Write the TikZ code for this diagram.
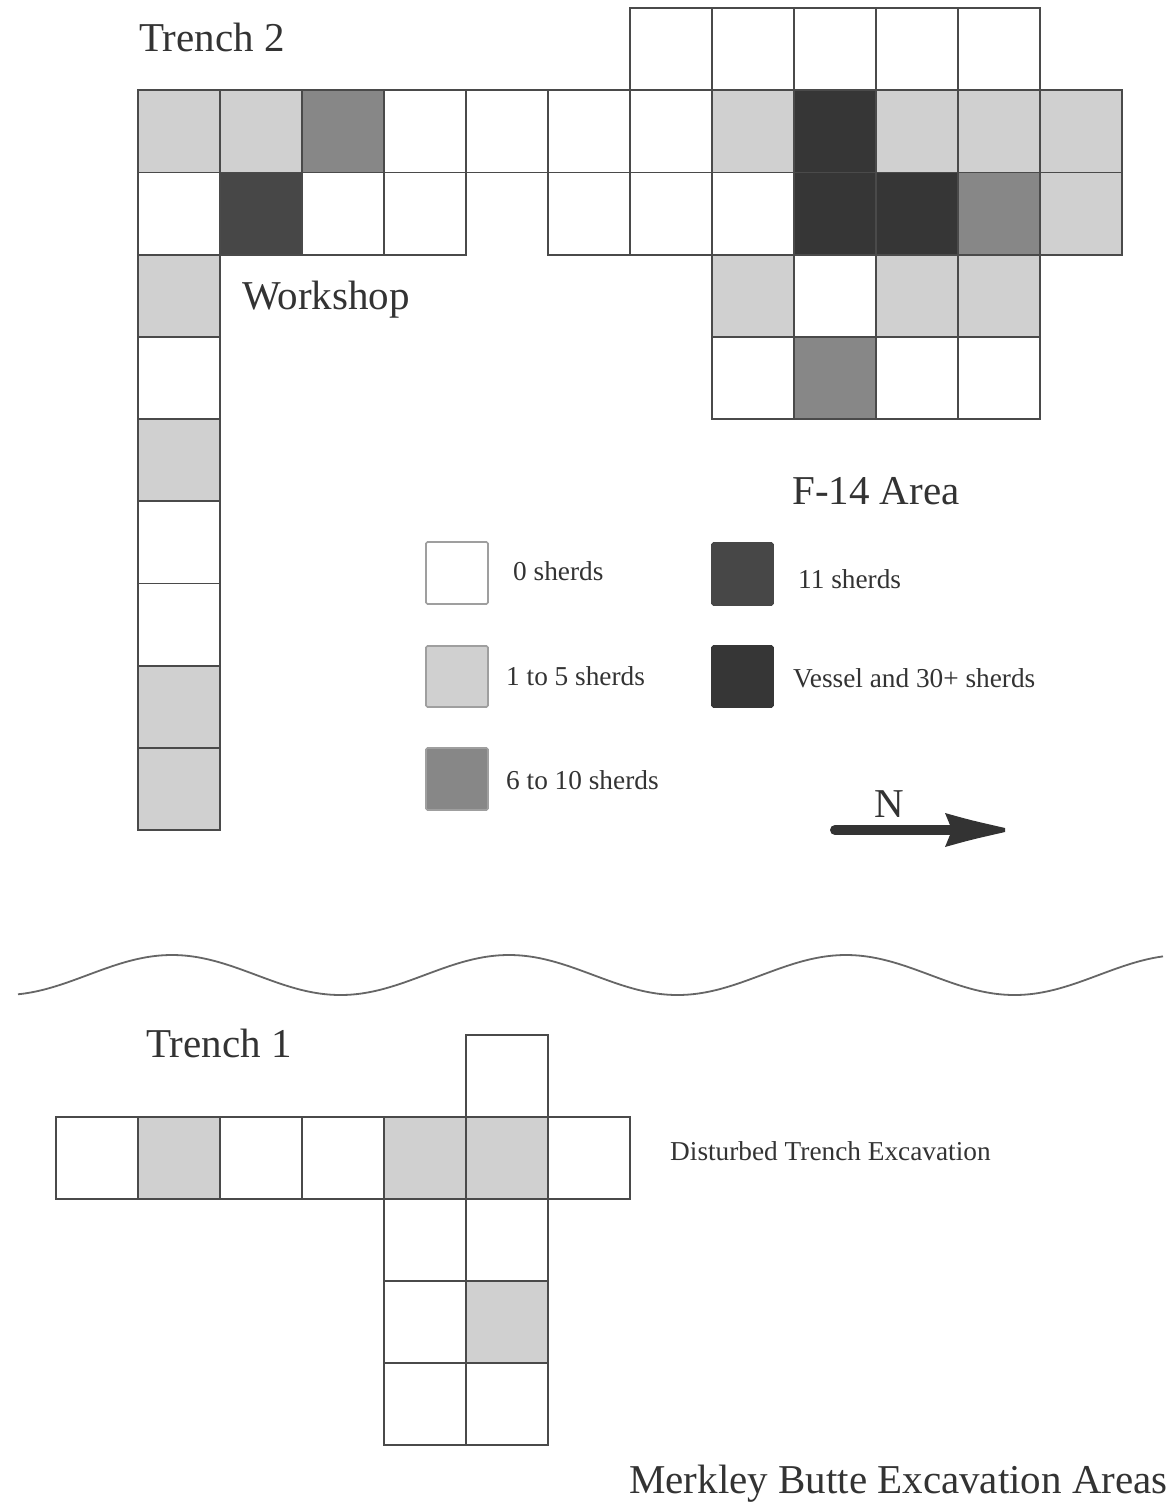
\documentclass[tikz,border=0pt]{standalone}
\usepackage{fontspec}
\setmainfont{Liberation Serif}
\definecolor{lightc}{HTML}{D0D0D0}
\definecolor{medc}{HTML}{878787}
\definecolor{darkc}{HTML}{474747}
\definecolor{vesc}{HTML}{363636}
\definecolor{linec}{HTML}{4A4A4A}
\definecolor{txtc}{HTML}{333333}
\newcommand{\gridrow}[3]{%
  \foreach \c/\f in {#3} {\path[cell,fill=\f] ({#2+82*\c},#1) rectangle ++(82,82.2);}}
\begin{document}
\begin{tikzpicture}[x=1pt,y=-1pt,
  cell/.style={draw=linec,line width=1.8pt},
  legbox/.style={draw=gray!75,line width=1.6pt,rounded corners=1.5pt},
  bigtxt/.style={text=txtc,inner sep=0pt,font=\fontsize{41}{46}\selectfont},
  smalltxt/.style={text=txtc,inner sep=0pt,font=\fontsize{27.3}{31}\selectfont},
  wave/.style={draw=gray!80!black,line width=1.8pt}]
\useasboundingbox (0,0) rectangle (1167,1505);
\fill[white] (0,0) rectangle (1167,1505);

% Trench 2 / F-14 grid
\gridrow{8}{138}{6/white,7/white,8/white,9/white,10/white}
\gridrow{90.2}{138}{0/lightc,1/lightc,2/medc,3/white,4/white,5/white,6/white,7/lightc,8/vesc,9/lightc,10/lightc,11/lightc}
\gridrow{172.4}{138}{0/white,1/darkc,2/white,3/white,5/white,6/white,7/white,8/vesc,9/vesc,10/medc,11/lightc}
\gridrow{254.6}{138}{0/lightc,7/lightc,8/white,9/lightc,10/lightc}
\gridrow{336.8}{138}{0/white,7/white,8/medc,9/white,10/white}
\gridrow{419}{138}{0/lightc}
\gridrow{501.2}{138}{0/white}
\gridrow{583.4}{138}{0/white}
\gridrow{665.6}{138}{0/lightc}
\gridrow{747.8}{138}{0/lightc}

% labels
\node[bigtxt,anchor=base west] (t2) at (139,51) {Trench 2};
\node[bigtxt,anchor=base west] (ws) at (242,309) {Workshop};
\node[bigtxt,anchor=base west] (f14) at (792,504) {F-14 Area};

% legend
\path[legbox,fill=white]  (426,542) rectangle (488,604);
\path[legbox,fill=lightc] (426,646) rectangle (488,707);
\path[legbox,fill=medc]   (426,748) rectangle (488,810);
\path[legbox,fill=darkc,draw=darkc]  (712,543) rectangle (773,605);
\path[legbox,fill=vesc,draw=vesc]   (712,646) rectangle (773,707);
\node[smalltxt,anchor=base west] (l0) at (513,580) {0 sherds};
\node[smalltxt,anchor=base west] (l1) at (506,685) {1 to 5 sherds};
\node[smalltxt,anchor=base west] (l6) at (506,789) {6 to 10 sherds};
\node[smalltxt,anchor=base west] (l11) at (798,588) {11 sherds};
\node[smalltxt,anchor=base west] (lv) at (793,687) {Vessel and 30+ sherds};

% north arrow
\node[bigtxt,anchor=base] (nlab) at (889,817) {N};
\coordinate (ntail) at (835,830);
\coordinate (nshaft) at (955,830);
\draw[line width=10pt,line cap=round,draw=txtc] (ntail) -- (nshaft);
\fill[txtc] (945,813) .. controls (970,820) .. (1005,828) -- (1005,832) .. controls (970,840) .. (945,847) -- (952,830) -- cycle;

% wavy separator
\draw[wave] plot[domain=18:1163,samples=220,smooth] (\x,{975-20*cos(1.06825*(\x-172))});

% Trench 1 grid
\gridrow{1035}{56}{5/white}
\gridrow{1117}{56}{0/white,1/lightc,2/white,3/white,4/lightc,5/lightc,6/white}
\gridrow{1199}{56}{4/white,5/white}
\gridrow{1281}{56}{4/white,5/lightc}
\gridrow{1363}{56}{4/white,5/white}

\node[bigtxt,anchor=base west] (t1) at (146,1057) {Trench 1};
\node[smalltxt,anchor=base west] (dte) at (670,1160) {Disturbed Trench Excavation};
\node[bigtxt,anchor=base west] (title) at (629,1493) {Merkley Butte Excavation Areas};
\end{tikzpicture}
\end{document}
